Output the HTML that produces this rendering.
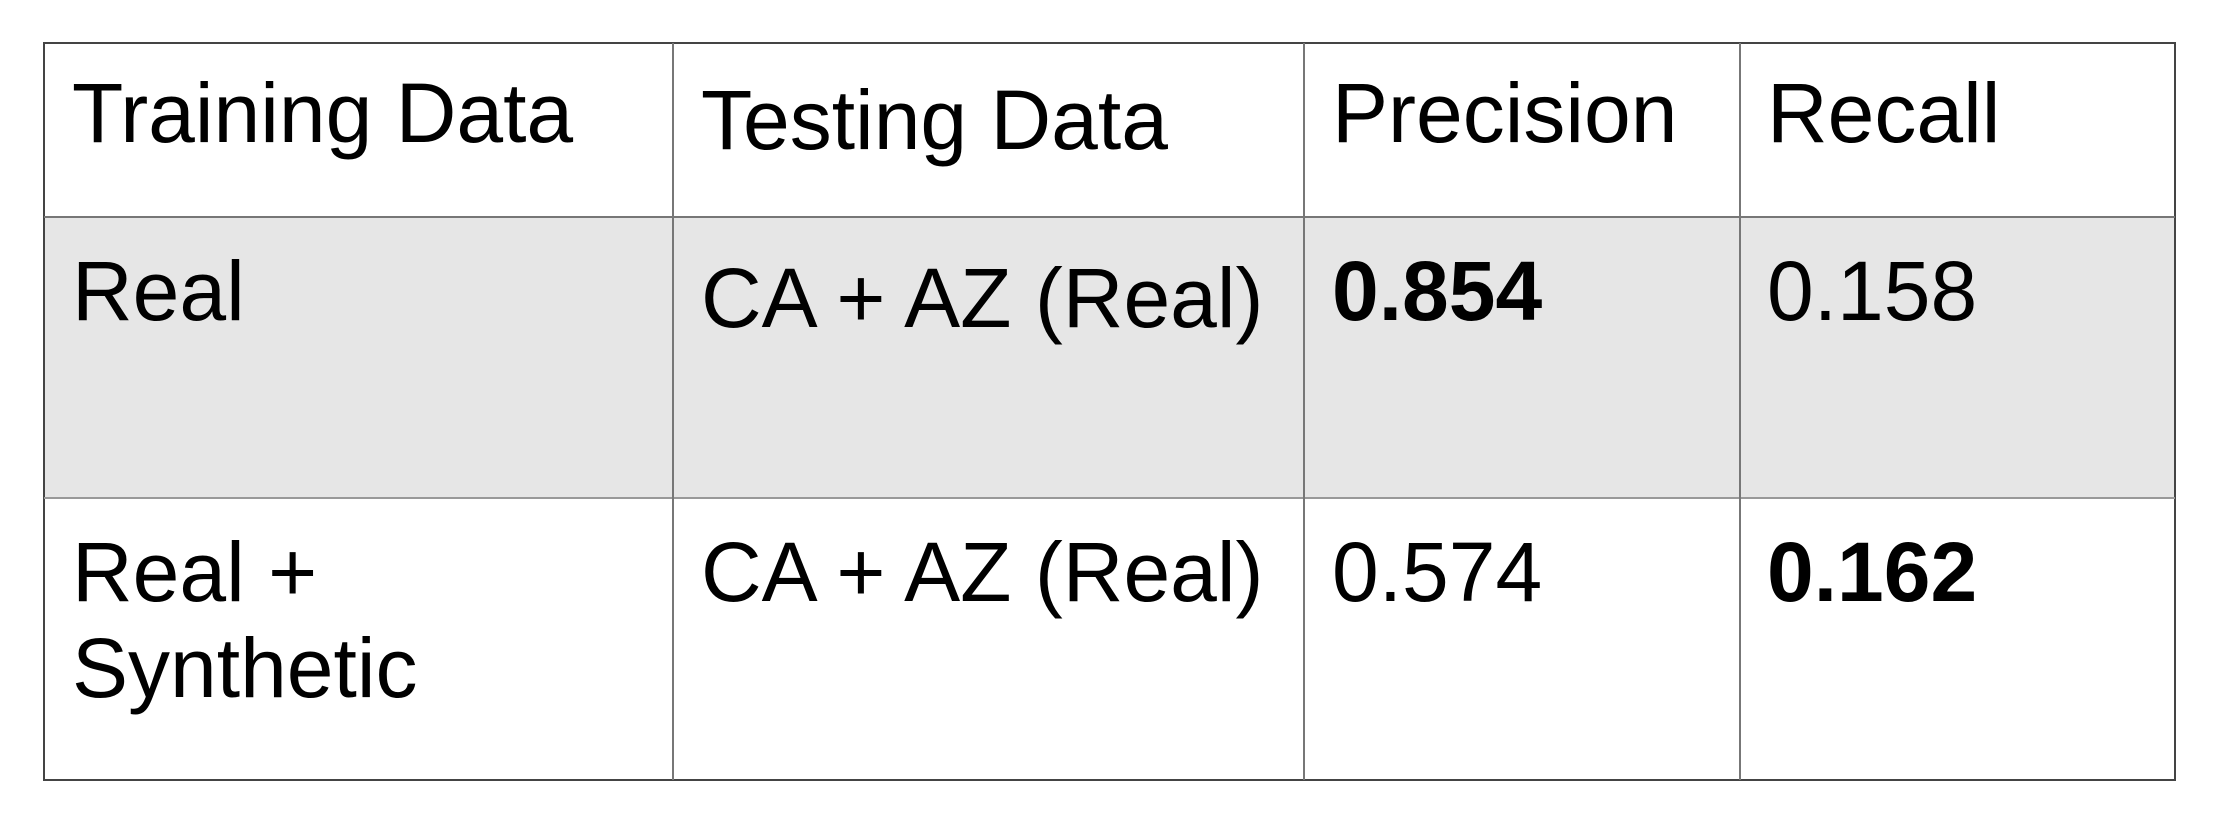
<!DOCTYPE html>
<html><head><meta charset="utf-8"><style>
body{margin:0;width:2231px;height:825px;background:#fff;position:relative;overflow:hidden;font-family:"Liberation Sans",Arial,sans-serif;}
.l{position:absolute;}
.t{position:absolute;font-size:84px;line-height:96px;color:#000;white-space:nowrap;}
b{font-weight:bold;}
</style></head><body>
<div style="position:absolute;left:0;top:0;width:2231px;height:825px">
<div class="l" style="left:44px;top:216px;width:2131px;height:282px;background:#e6e6e6"></div>
<div class="l" style="left:43px;top:42px;width:2133px;height:2px;background:#444"></div>
<div class="l" style="left:43px;top:779px;width:2133px;height:2px;background:#444"></div>
<div class="l" style="left:43px;top:42px;width:2px;height:739px;background:#444"></div>
<div class="l" style="left:2174px;top:42px;width:2px;height:739px;background:#444"></div>
<div class="l" style="left:44px;top:216px;width:2131px;height:2px;background:#777"></div>
<div class="l" style="left:44px;top:497px;width:2131px;height:2px;background:#999"></div>
<div class="l" style="left:672px;top:43px;width:2px;height:737px;background:#777"></div>
<div class="l" style="left:1303px;top:43px;width:2px;height:737px;background:#777"></div>
<div class="l" style="left:1739px;top:43px;width:2px;height:737px;background:#777"></div>

<div class="t" style="left:72px;top:65px">Training Data</div>
<div class="t" style="left:701px;top:72px">Testing Data</div>
<div class="t" style="left:1332px;top:65px">Precision</div>
<div class="t" style="left:1767px;top:65px">Recall</div>

<div class="t" style="left:72px;top:243px">Real</div>
<div class="t" style="left:701px;top:250px">CA + AZ (Real)</div>
<div class="t" style="left:1332px;top:243px"><b>0.854</b></div>
<div class="t" style="left:1767px;top:243px">0.158</div>

<div class="t" style="left:72px;top:524px">Real +<br>Synthetic</div>
<div class="t" style="left:701px;top:524px">CA + AZ (Real)</div>
<div class="t" style="left:1332px;top:524px">0.574</div>
<div class="t" style="left:1767px;top:524px"><b>0.162</b></div>
</div>
</body></html>
